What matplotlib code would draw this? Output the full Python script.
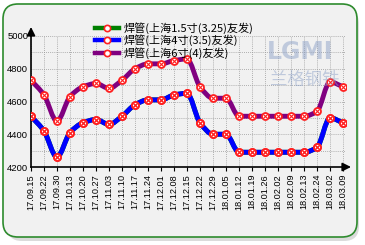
import numpy as np
import matplotlib
matplotlib.use("Agg")
import matplotlib.pyplot as plt
from matplotlib.path import Path
from matplotlib.patches import PathPatch, FancyBboxPatch
from matplotlib.transforms import IdentityTransform
from matplotlib.lines import Line2D

dates = ["17.09.15", "17.09.22", "17.09.30", "17.10.13", "17.10.20", "17.10.27",
         "17.11.03", "17.11.10", "17.11.17", "17.11.24", "17.12.01", "17.12.08",
         "17.12.15", "17.12.22", "17.12.29", "18.01.05", "18.01.12", "18.01.19",
         "18.01.26", "18.02.02", "18.02.09", "18.02.13", "18.02.24", "18.03.02",
         "18.03.09"]
pipe_15 = [4510, 4420, 4260, 4410, 4470, 4490, 4460, 4510, 4580, 4610, 4610, 4640,
           4650, 4470, 4400, 4400, 4290, 4290, 4290, 4290, 4290, 4290, 4320, 4500, 4470]
pipe_4 = [4510, 4420, 4260, 4410, 4470, 4490, 4460, 4510, 4580, 4610, 4610, 4640,
          4650, 4470, 4400, 4400, 4290, 4290, 4290, 4290, 4290, 4290, 4320, 4500, 4470]
pipe_6 = [4730, 4640, 4480, 4630, 4690, 4710, 4680, 4730, 4800, 4830, 4830, 4850,
          4860, 4690, 4620, 4620, 4510, 4510, 4510, 4510, 4510, 4510, 4540, 4720, 4690]
labels = ["焊管(上海1.5寸(3.25)友发)", "焊管(上海4寸(3.5)友发)", "焊管(上海6寸(4)友发)"]
colors = ["#008000", "#0000FF", "#800080"]
yticks = [4200, 4400, 4600, 4800, 5000]

W, H = 365, 245
fig = plt.figure(figsize=(W / 100, H / 100), dpi=100)
fig.patch.set_facecolor("white")

# panel with shadow
shadow = FancyBboxPatch((7, H - 241), 352, 232, boxstyle="round,pad=0,rounding_size=15",
                        transform=IdentityTransform(), facecolor="#C4C4C4", edgecolor="none",
                        alpha=0.6, zorder=0)
panel = FancyBboxPatch((3, H - 237), 354, 233, boxstyle="round,pad=0,rounding_size=15",
                       transform=IdentityTransform(), facecolor="#F1F1F1", edgecolor="#2E8B2E",
                       linewidth=1.2, zorder=1)
fig.patches.extend([shadow, panel])

L, R, B, T = 31, 346, 167, 36
ax = fig.add_axes([L / W, (H - B) / H, (R - L) / W, (B - T) / H])
ax.set_facecolor("none")
ax.set_zorder(2)
ax.set_xlim(0, 24 * (R - L) / (343 - L))
ax.set_ylim(4200, 5000)

x = np.arange(len(dates))

def smooth_path(xs, ys):
    xs = np.asarray(xs, float); ys = np.asarray(ys, float)
    d = np.diff(ys) / np.diff(xs)
    m = np.zeros_like(ys)
    m[0], m[-1] = d[0], d[-1]
    for i in range(1, len(ys) - 1):
        if d[i - 1] * d[i] <= 0:
            m[i] = 0
        else:
            m[i] = 2 / (1 / d[i - 1] + 1 / d[i])
    verts = [(xs[0], ys[0])]
    codes = [Path.MOVETO]
    for i in range(len(xs) - 1):
        h = xs[i + 1] - xs[i]
        verts += [(xs[i] + h / 3, ys[i] + m[i] * h / 3),
                  (xs[i + 1] - h / 3, ys[i + 1] - m[i + 1] * h / 3),
                  (xs[i + 1], ys[i + 1])]
        codes += [Path.CURVE4] * 3
    return Path(verts, codes)

# watermark
fig.text(300 / W, 1 - 52 / H, "LGMI", fontsize=17, fontweight="bold",
         color="#8FA3C8", alpha=0.5, ha="center", va="center", zorder=2.5)
fig.text(305 / W, 1 - 80 / H, "兰格钢铁", fontsize=12.5, color="#8FA3C8", alpha=0.5,
         ha="center", va="center", family=["Noto Sans CJK SC", "DejaVu Sans"], zorder=2.5)

for vals, c in zip([pipe_15, pipe_4, pipe_6], colors):
    ax.add_patch(PathPatch(smooth_path(x, vals), facecolor="none", edgecolor=c,
                           linewidth=3.5, capstyle="round", joinstyle="round", zorder=3))
    ax.plot(x, vals, linestyle="none", marker="o", ms=5, mfc="white", mec="#FF2020",
            mew=1.3, zorder=4)
    ax.plot(x, vals, linestyle="none", marker="x", ms=2.2, mec="#FF2020", mew=0.8, zorder=5)

ax.set_xticks(x)
ax.set_xticklabels(dates, rotation=90, fontfamily="Liberation Sans", fontsize=6.6)
ax.set_yticks(np.arange(4200, 5001, 100), minor=False)
ax.set_yticklabels([str(v) if v in yticks else "" for v in range(4200, 5001, 100)],
                   fontfamily="Liberation Sans", fontsize=6.8)
ax.tick_params(axis="x", length=3, width=0.8, pad=2)
ax.tick_params(axis="y", length=0, pad=2)
ax.grid(True, color="#999999", linestyle=(0, (1, 1.5)), linewidth=0.6)
ax.set_axisbelow(True)
for s in ["top", "right"]:
    ax.spines[s].set_visible(False)
ax.spines["left"].set_linewidth(1.2)
ax.spines["bottom"].set_linewidth(1.2)

# axis arrows
ax.annotate("", xy=(0, 5000 + 800 * 9 / 131), xytext=(0, 5000),
            xycoords="data", textcoords="data",
            arrowprops=dict(arrowstyle="-|>,head_length=0.5,head_width=0.25", color="black",
                            lw=1.2, shrinkA=0, shrinkB=0), annotation_clip=False)
ax.annotate("", xy=(24 * (351 - L) / (343 - L), 4200), xytext=(ax.get_xlim()[1], 4200),
            arrowprops=dict(arrowstyle="-|>,head_length=0.5,head_width=0.25", color="black",
                            lw=1.2, shrinkA=0, shrinkB=0), annotation_clip=False)

handles = [Line2D([0], [0], color=c, lw=3.2, marker="o", ms=4.5, mfc="white",
                  mec="#FF2020", mew=1.2) for c in colors]
leg = fig.legend(handles, labels, loc="upper left", bbox_to_anchor=(95 / W, 1 - 22 / H),
                 frameon=False, prop={"family": ["Noto Sans CJK SC", "DejaVu Sans"], "size": 8},
                 handlelength=2.2, handletextpad=0.4, labelspacing=0.05, borderpad=0,
                 borderaxespad=0)
leg.set_zorder(6)

fig.savefig("out.png", dpi=100, facecolor="white")
